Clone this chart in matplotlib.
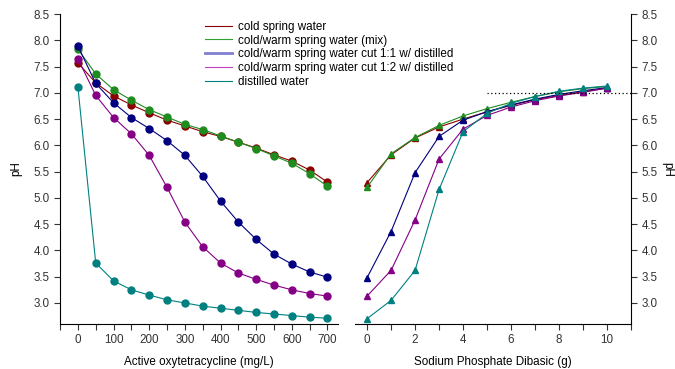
import matplotlib
matplotlib.use('Agg')
import matplotlib.pyplot as plt
from matplotlib.ticker import MultipleLocator

plt.rcParams['font.family'] = ['Liberation Sans', 'DejaVu Sans']
plt.rcParams['font.size'] = 8.4

# oxytetracycline dose (mg/L)
dose = [0, 50, 100, 150, 200, 250, 300, 350, 400, 450, 500, 550, 600, 650, 700]
# sodium phosphate dibasic added (g)
phos = [0, 1, 2, 3, 4, 5, 6, 7, 8, 9, 10]

names = ['cold spring water', 'cold/warm spring water (mix)',
         'cold/warm spring water cut 1:1 w/ distilled',
         'cold/warm spring water cut 1:2 w/ distilled', 'distilled water']
colors = ['#8b0000', '#1e8c1e', '#000080', '#850085', '#008080']

# left panel: pH vs dose
cold_dose = [7.57, 7.19, 6.94, 6.77, 6.62, 6.48, 6.37, 6.26, 6.17, 6.06, 5.95, 5.82, 5.70, 5.53, 5.30]
mix_dose = [7.83, 7.36, 7.06, 6.86, 6.68, 6.54, 6.40, 6.30, 6.18, 6.06, 5.94, 5.80, 5.66, 5.46, 5.22]
cut11_dose = [7.89, 7.18, 6.81, 6.53, 6.32, 6.09, 5.81, 5.41, 4.94, 4.54, 4.21, 3.93, 3.74, 3.59, 3.49]
cut12_dose = [7.65, 6.95, 6.53, 6.22, 5.81, 5.20, 4.54, 4.07, 3.76, 3.57, 3.45, 3.34, 3.25, 3.18, 3.13]
dist_dose = [7.11, 3.76, 3.42, 3.25, 3.15, 3.06, 3.00, 2.94, 2.90, 2.86, 2.82, 2.79, 2.76, 2.73, 2.71]

# right panel: pH vs phosphate
cold_phos = [5.29, 5.82, 6.14, 6.35, 6.50, 6.64, 6.76, 6.87, 6.95, 7.02, 7.09]
mix_phos = [5.20, 5.84, 6.15, 6.38, 6.56, 6.70, 6.82, 6.93, 7.02, 7.08, 7.12]
cut11_phos = [3.48, 4.36, 5.48, 6.17, 6.48, 6.64, 6.77, 6.88, 6.97, 7.04, 7.10]
cut12_phos = [3.13, 3.62, 4.58, 5.74, 6.31, 6.57, 6.73, 6.85, 6.94, 7.01, 7.09]
dist_phos = [2.70, 3.05, 3.62, 5.16, 6.26, 6.61, 6.80, 6.93, 7.03, 7.09, 7.13]

left_sets = [cold_dose, mix_dose, cut11_dose, cut12_dose, dist_dose]
right_sets = [cold_phos, mix_phos, cut11_phos, cut12_phos, dist_phos]

fig = plt.figure(figsize=(6.75, 3.69), dpi=100)
ax1 = fig.add_axes([0.089, 0.122, 0.412, 0.840])
ax2 = fig.add_axes([0.526, 0.122, 0.409, 0.840])

for ys, c, n in zip(left_sets, colors, names):
    ax1.plot(dose, ys, '-o', color=c, lw=0.8, ms=5, label=n)
for ys, c in zip(right_sets, colors):
    ax2.plot(phos, ys, '-^', color=c, lw=0.8, ms=5)

ax2.hlines(7.0, 5, 11, colors='black', linestyles=(0, (1, 2)), lw=0.9)

ax1.set_xlim(-50, 730)
ax1.set_ylim(2.6, 8.5)
ax2.set_xlim(-0.5, 11)
ax2.set_ylim(2.6, 8.5)

for ax in (ax1, ax2):
    ax.spines['top'].set_visible(False)
    ax.yaxis.set_major_locator(MultipleLocator(0.5))
    ax.yaxis.set_major_formatter(matplotlib.ticker.FormatStrFormatter('%.1f'))
    ax.tick_params(length=4, width=0.8, colors='#333333', labelcolor='#333333')
    ax.tick_params(which='minor', length=4, width=0.8, color='#333333')

ax1.spines['right'].set_visible(False)
ax2.spines['left'].set_visible(False)
ax2.yaxis.tick_right()
ax2.yaxis.set_label_position('right')

ax1.xaxis.set_major_locator(MultipleLocator(100))
ax1.xaxis.set_minor_locator(MultipleLocator(50))
ax2.xaxis.set_major_locator(MultipleLocator(2))
ax2.xaxis.set_minor_locator(MultipleLocator(1))

ax1.set_xlabel('Active oxytetracycline (mg/L)', labelpad=7)
ax2.set_xlabel('Sodium Phosphate Dibasic (g)', labelpad=7)
ax1.set_ylabel('pH', labelpad=8)
ax2.set_ylabel('pH', rotation=270, labelpad=11)

handles, labels = ax1.get_legend_handles_labels()
leg = fig.legend(handles, labels, loc='upper left', bbox_to_anchor=(0.288, 0.972),
                 frameon=False, handlelength=2.3, handletextpad=0.5,
                 labelspacing=0.15, fontsize=8.4)
for h in leg.legend_handles:
    h.set_marker('')
leg.legend_handles[2].set_color('#7f7fd0')
leg.legend_handles[2].set_linewidth(2)
leg.legend_handles[3].set_color('#c040c0')
leg.legend_handles[1].set_color('#30a030')

fig.savefig('out.png', dpi=100)
